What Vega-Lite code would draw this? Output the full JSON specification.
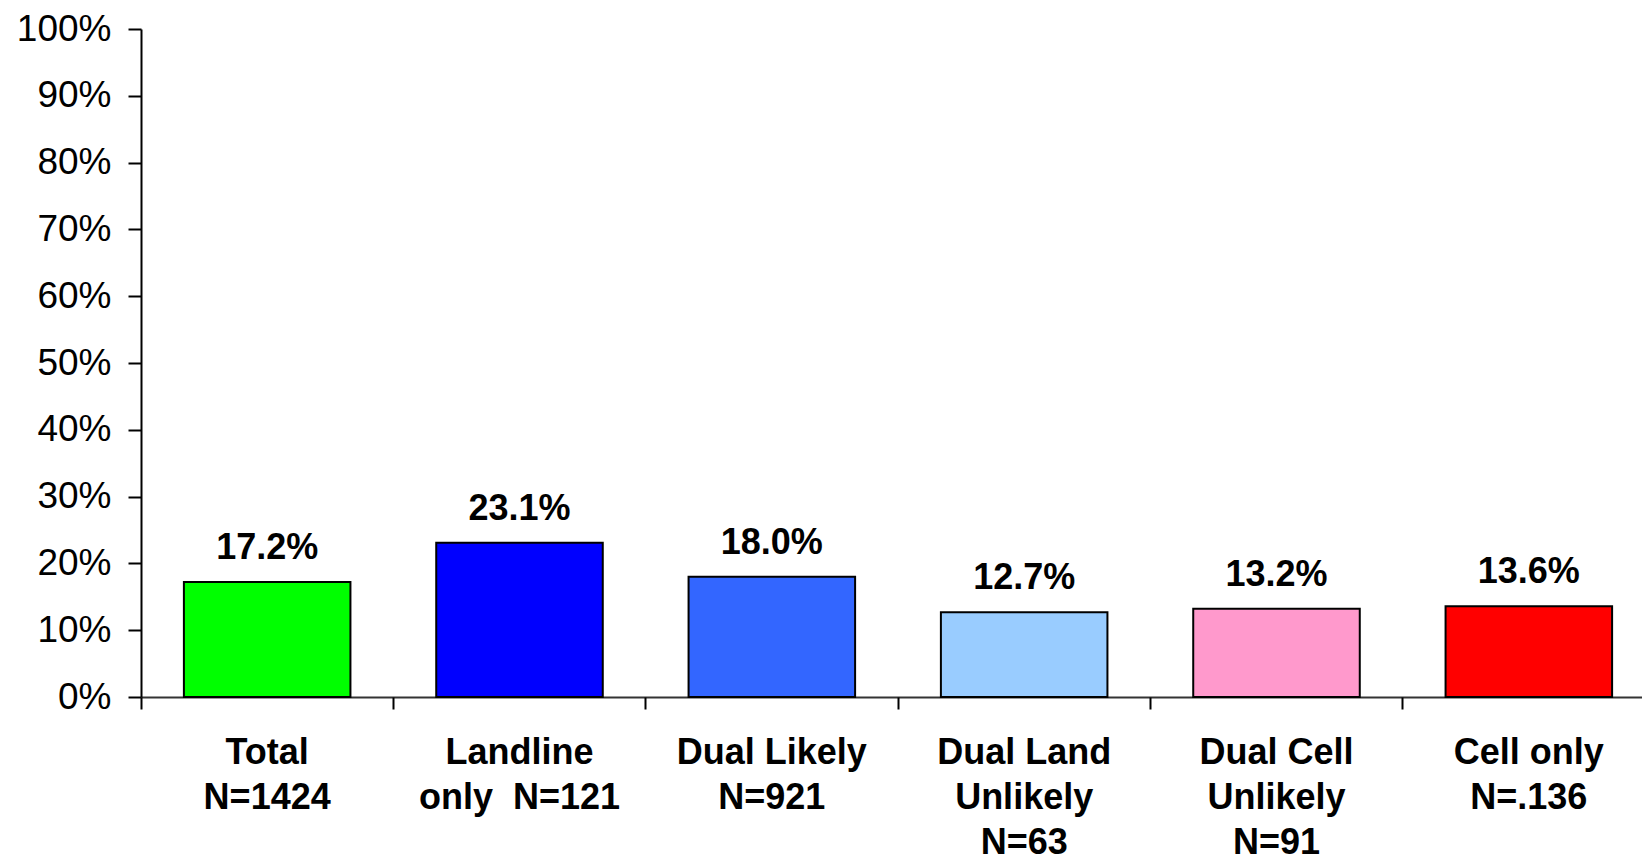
{
  "$schema": "https://vega.github.io/schema/vega-lite/v6.json",
  "autosize": "none",
  "padding": {"left": 141, "top": 29, "right": 0, "bottom": 164},
  "width": 1501,
  "height": 668,
  "background": "white",
  "config": {"view": {"stroke": null}, "font": "Liberation Sans"},
  "data": {"values": [
    {"group": "Total|N=1424", "value": 0.172, "label": "17.2%"},
    {"group": "Landline|only\u00a0\u00a0N=121", "value": 0.231, "label": "23.1%"},
    {"group": "Dual Likely|N=921", "value": 0.180, "label": "18.0%"},
    {"group": "Dual Land|Unlikely|N=63", "value": 0.127, "label": "12.7%"},
    {"group": "Dual Cell|Unlikely|N=91", "value": 0.132, "label": "13.2%"},
    {"group": "Cell only|N=.136", "value": 0.136, "label": "13.6%"}
  ]},
  "resolve": {"scale": {"x": "independent"}, "axis": {"x": "independent"}},
  "layer": [
    {
      "mark": {"type": "bar", "stroke": "black", "strokeWidth": 2},
      "encoding": {
        "x": {"field": "group", "type": "nominal", "sort": null,
          "scale": {"type": "band", "range": [0, 1514], "paddingInner": 0.34, "paddingOuter": 0.17},
          "axis": {"orient": "bottom", "title": null, "ticks": false, "domain": true, "domainColor": "#333333", "domainWidth": 2,
            "labelAngle": 0, "labelFont": "Liberation Sans", "labelFontWeight": "bold", "labelFontSize": 36, "labelColor": "black",
            "labelLimit": 0, "labelBaseline": "alphabetic", "labelPadding": 66, "labelLineHeight": 45, "labelExpr": "split(datum.label, '|')"}},
        "y": {"field": "value", "type": "quantitative",
          "scale": {"domain": [0, 1]},
          "axis": {"title": null, "format": "%", "values": [0,0.1,0.2,0.3,0.4,0.5,0.6,0.7,0.8,0.9,1], "grid": false,
            "domainColor": "black", "domainWidth": 2, "tickColor": "black", "tickWidth": 2, "tickSize": 13,
            "labelFont": "Liberation Sans", "labelFontSize": 37, "labelColor": "black", "labelPadding": 17}},
        "color": {"field": "group", "type": "nominal", "legend": null,
          "scale": {"domain": ["Total|N=1424", "Landline|only\u00a0\u00a0N=121", "Dual Likely|N=921", "Dual Land|Unlikely|N=63", "Dual Cell|Unlikely|N=91", "Cell only|N=.136"],
            "range": ["#00FF00", "#0000FF", "#3366FF", "#99CCFF", "#FF99CC", "#FF0000"]}}
      }
    },
    {
      "mark": {"type": "text", "font": "Liberation Sans", "fontWeight": "bold", "fontSize": 36, "baseline": "alphabetic", "dy": -23, "color": "black"},
      "encoding": {
        "x": {"field": "group", "type": "nominal", "sort": null,
          "scale": {"type": "band", "range": [0, 1514], "paddingInner": 0, "paddingOuter": 0},
          "axis": {"orient": "bottom", "title": null, "labels": false, "domain": false, "ticks": true, "bandPosition": 0,
            "tickColor": "black", "tickWidth": 2, "tickSize": 12}},
        "y": {"field": "value", "type": "quantitative"},
        "text": {"field": "label"}
      }
    }
  ]
}
